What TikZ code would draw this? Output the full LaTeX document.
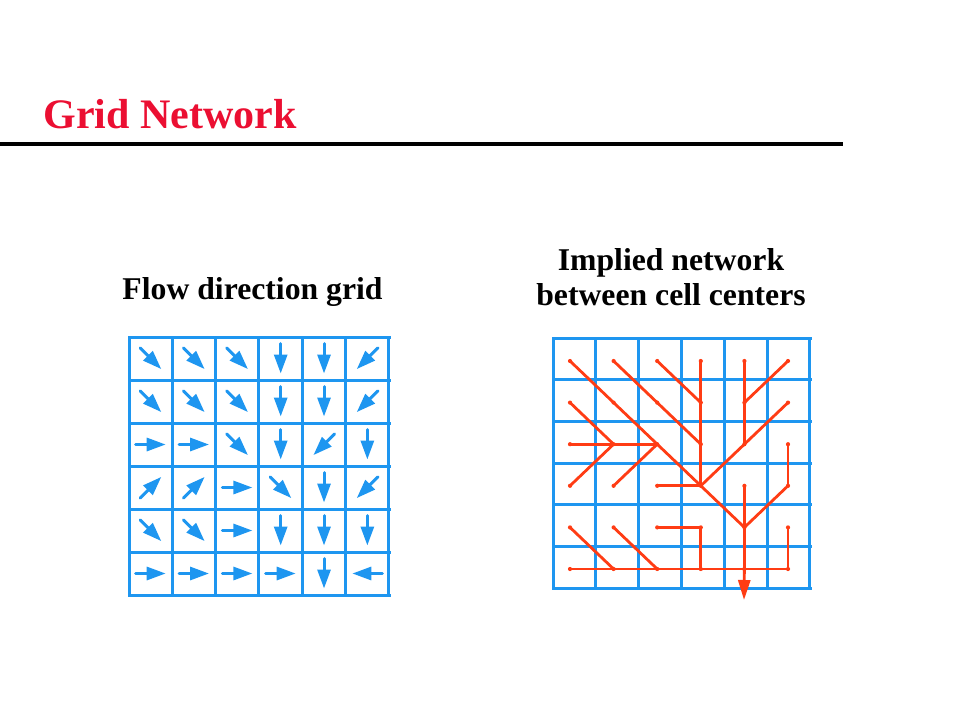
\documentclass[tikz,border=0pt]{standalone}
\usepackage{fontspec}
\setmainfont{Liberation Serif}
\usetikzlibrary{arrows.meta}
\definecolor{gridblue}{RGB}{30,150,240}
\definecolor{netred}{RGB}{255,60,20}
\definecolor{titlered}{RGB}{235,15,50}
\begin{document}
\begin{tikzpicture}[line cap=round,line join=round,x=1pt,y=-1pt,
	gridline/.style={line width=3pt,color=gridblue,line cap=rect},
	flowarrow/.style={line width=3pt,color=gridblue,-{Triangle[length=19pt,width=13pt]}},
	netline/.style={line width=2.8pt,color=netred},
	headtext/.style={anchor=base,font=\bfseries\fontsize{31.7}{36}\selectfont}]
		\useasboundingbox (0,0) rectangle (960,720);
		% title and rule
		\node[anchor=base west,text=titlered,font=\bfseries\fontsize{42}{50}\selectfont] (title) at (40,128) {Grid Network};
		\draw [line width=4.5pt,line cap=butt] (0,144)-- (843,144);
		% headings
		\node[headtext] (flowhead) at (252.5,299) {Flow direction grid};
		\node[headtext] (netheadA) at (671,270) {Implied network};
		\node[headtext] (netheadB) at (671,305) {between cell centers};
		% flow direction grid
		\foreach \i in {0,...,6} {
			\draw [gridline] (129+43.33*\i,337)-- (129+43.33*\i,595);
			\draw [gridline] (129,337+43*\i)-- (389,337+43*\i);
		}
		\foreach \row [count=\r from 0] in {{45,45,45,90,90,135},{45,45,45,90,90,135},{0,0,45,90,135,90},{-45,-45,0,45,90,135},{45,45,0,90,90,90},{0,0,0,0,90,180}} {
			\foreach \a [count=\c from 0] in \row
				\draw [flowarrow,shift={(150.7+43.33*\c,358.5+43*\r)}] (\a+180:15)-- (\a:15);
		}
		% implied network
		\foreach \i in {0,...,6} {
			\draw [gridline] (553+42.83*\i,338)-- (553+42.83*\i,588);
			\draw [gridline] (553,338+41.67*\i)-- (810,338+41.67*\i);
		}
		\foreach \r in {1,...,6}
			\foreach \c in {1,...,6}
				\coordinate (n\r\c) at (570+43.6*\c-43.6,361+41.6*\r-41.6);
		\coordinate (outlet) at (744,600);
		\foreach \a/\b in {11/22,12/23,13/24,14/24,15/25,16/25,
			21/32,22/33,23/34,24/34,25/35,26/35,
			31/32,32/33,33/44,34/44,35/44,36/46,
			41/32,42/33,43/44,44/55,45/55,46/55,
			51/62,52/63,53/54,54/64,55/65,56/66,
			61/62,62/63,63/64,64/65,66/65}
			\draw [netline] (n\a)-- (n\b);
		\draw [netline,-{Triangle[length=20pt,width=12pt]}] (n65)-- (outlet);
		\foreach \r in {1,...,6}
			\foreach \c in {1,...,6}
				\fill [netred] (n\r\c) circle (2.1pt);
	\end{tikzpicture}
\end{document}
